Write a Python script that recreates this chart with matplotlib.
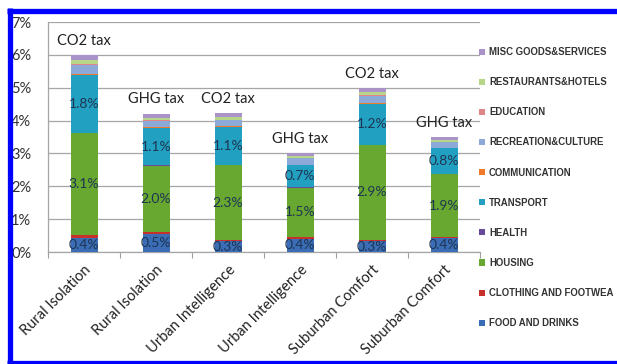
import matplotlib
matplotlib.use("Agg")
import matplotlib.pyplot as plt
from matplotlib.lines import Line2D
from matplotlib.patches import Patch
import numpy as np

# Scenario / tax combinations along the x axis
scenarios = ["Rural Isolation", "Rural Isolation", "Urban Intelligence",
             "Urban Intelligence", "Suburban Comfort", "Suburban Comfort"]
tax_types = ["CO2 tax", "GHG tax", "CO2 tax", "GHG tax", "CO2 tax", "GHG tax"]

# Price increase by consumption category (% of expenditure)
food = [0.44, 0.54, 0.32, 0.41, 0.33, 0.43]
clothing = [0.07, 0.07, 0.05, 0.04, 0.05, 0.04]
housing = [3.10, 2.02, 2.27, 1.51, 2.87, 1.89]
health = [0.02, 0.02, 0.02, 0.01, 0.02, 0.01]
transport = [1.76, 1.12, 1.14, 0.67, 1.24, 0.79]
communication = [0.04, 0.03, 0.03, 0.02, 0.03, 0.02]
recreation = [0.27, 0.20, 0.19, 0.19, 0.22, 0.17]
education = [0.01, 0.01, 0.01, 0.01, 0.01, 0.01]
restaurants = [0.12, 0.08, 0.08, 0.06, 0.09, 0.05]
misc = [0.17, 0.12, 0.11, 0.08, 0.12, 0.09]

category_names = ["FOOD AND DRINKS", "CLOTHING AND FOOTWEA", "HOUSING", "HEALTH",
                  "TRANSPORT", "COMMUNICATION", "RECREATION&CULTURE", "EDUCATION",
                  "RESTAURANTS&HOTELS", "MISC GOODS&SERVICES"]
series = [food, clothing, housing, health, transport, communication,
          recreation, education, restaurants, misc]
colors = ["#3A6DB5", "#C8302C", "#68A830", "#6A4A9A", "#22A0C2", "#F07A2A",
          "#8DA9D8", "#E0868A", "#B8D68A", "#A993C9"]
labelled = {"FOOD AND DRINKS", "HOUSING", "TRANSPORT"}

W, H = 617, 364
fig = plt.figure(figsize=(W / 100, H / 100), dpi=100)
ax = fig.add_axes([48 / W, 1 - 252 / H, 432 / W, 230 / H])

font = "Lato"
x = np.arange(len(scenarios))
bottom = np.zeros(len(scenarios))
for name, vals, col in zip(category_names, series, colors):
    vals = np.array(vals)
    ax.bar(x, vals, width=0.375, bottom=bottom, color=col, zorder=3,
           linewidth=0)
    if name in labelled:
        for xi, b, v in zip(x, bottom, vals):
            ax.text(xi, b + v / 2, f"{v:.1f}%", ha="center", va="center",
                    fontsize=10, color="#1E3552", family=font, zorder=4)
    bottom = bottom + vals

for xi, total, tax in zip(x, bottom, tax_types):
    ax.text(xi, total + 0.22, tax, ha="center", va="bottom", fontsize=10.5,
            color="#222222", family=font, zorder=4)

ax.set_xlim(-0.5, len(scenarios) - 0.5)
ax.set_ylim(0, 7)
ax.set_yticks(range(0, 8))
ax.set_yticklabels([f"{i}%" for i in range(0, 8)], family=font, fontsize=10.5,
                   color="#333333")
ax.tick_params(axis="y", length=0, pad=12)

ax.set_xticks(x)
ax.set_xticklabels(scenarios, rotation=45, ha="right", rotation_mode="anchor",
                   family=font, fontsize=10.5, color="#222222")
ax.tick_params(axis="x", length=0, pad=8)
ax.set_xticks(np.arange(-0.5, len(scenarios)), minor=True)
ax.tick_params(axis="x", which="minor", length=4, color="#A0A0A0", width=0.8)

ax.grid(axis="y", color="#A6A6A6", linewidth=0.9, zorder=0)
for s in ["top", "right"]:
    ax.spines[s].set_visible(False)
for s in ["left", "bottom"]:
    ax.spines[s].set_color("#A6A6A6")
    ax.spines[s].set_linewidth(0.9)

handles = [Patch(facecolor=c, edgecolor="none") for c in colors][::-1]
fig.legend(handles, category_names[::-1], loc="upper left",
           bbox_to_anchor=(479 / W, 1 - 47 / H), frameon=False,
           borderaxespad=0, borderpad=0, handlelength=0.6, handleheight=0.6,
           handletextpad=0.45, labelspacing=2.1,
           prop={"family": "Liberation Sans", "weight": "bold", "size": 6.9},
           labelcolor="#333333")

# Blue frame around the figure (open on the right edge)
frame_kw = dict(color="#0000FF", linewidth=3.8, transform=fig.transFigure,
                zorder=10, solid_capstyle="butt")
fig.add_artist(Line2D([9.5 / W, 9.5 / W], [0, 1 - 8 / H], **frame_kw))
fig.add_artist(Line2D([7 / W, 1], [1 - 10.5 / H, 1 - 10.5 / H], **frame_kw))
fig.add_artist(Line2D([7 / W, 1], [1.5 / H, 1.5 / H], **frame_kw))

fig.savefig("out.png", dpi=100, facecolor="white")
